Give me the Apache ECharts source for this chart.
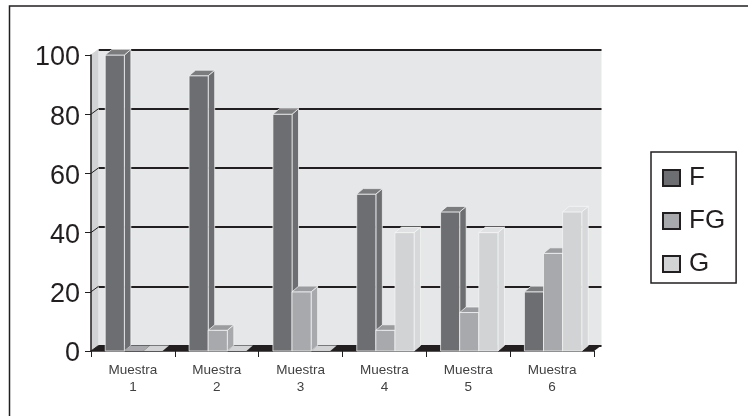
<!DOCTYPE html>
<html>
<head>
<meta charset="utf-8">
<style>html,body{margin:0;padding:0;background:#fff}#chart{width:748px;height:416px}</style>
<script src="https://cdn.jsdelivr.net/npm/echarts@6/dist/echarts.min.js"></script>
</head>
<body>
<div id="chart"></div>
<script>
// Composition of six samples, drawn as pseudo-3D clustered columns
const categories = ['Muestra\n1', 'Muestra\n2', 'Muestra\n3', 'Muestra\n4', 'Muestra\n5', 'Muestra\n6'];
const valuesF = [100, 93, 80, 53, 47, 20];
const valuesFG = [0, 7, 20, 7, 13, 33];
const valuesG = [0, 0, 0, 40, 40, 47];
const yTicks = [0, 20, 40, 60, 80, 100];

const INK = '#231f20';
const FONT = '"Liberation Sans", Arial, sans-serif';
const PLOT = { left: 91, top: 55, width: 503, height: 296 };
const WALL_DX = 7.5, WALL_DY = -5.5;   // offset of the back wall from the front plane
const BAR_DX = 6.5, BAR_DY = -5.5;     // depth of each column
const BAR_RATIO = 0.228;               // column width as a share of the category band

const palette = {
  F:  { front: '#6d6e71', side: '#6d6e71', top: '#7b7c7e' },
  FG: { front: '#a7a9ac', side: '#a7a9ac', top: '#9a9c9f' },
  G:  { front: '#d1d3d4', side: '#d6d8d9', top: '#e0e1e2' }
};

function poly(points, fill, stroke) {
  return {
    type: 'polygon',
    shape: { points },
    style: { fill, stroke: stroke || fill, lineWidth: stroke ? 0.8 : 0 }
  };
}

// One clustered column: front, side and top faces placed from the axis scales
function columnRenderer(seriesIndex, colors) {
  return function (params, api) {
    const cat = api.value(0);
    const val = api.value(1);
    const band = api.size([1, 0])[0];
    const w = band * BAR_RATIO;
    const center = api.coord([cat, 0])[0];
    const x0 = center - w * 1.5 + seriesIndex * w + 1;
    const x1 = x0 + w;
    const yBase = api.coord([cat, 0])[1];
    const yTop = api.coord([cat, val])[1];
    const edge = 'rgba(245,246,246,0.9)';
    const faces = [];
    if (val > 0) {
      faces.push(poly([[x1, yTop], [x1 + BAR_DX, yTop + BAR_DY], [x1 + BAR_DX, yBase + BAR_DY], [x1, yBase]], colors.side, edge));
      faces.push(poly([[x0, yTop], [x1, yTop], [x1, yBase], [x0, yBase]], colors.front, edge));
      faces.push(poly([[x0, yTop], [x1, yTop], [x1 + BAR_DX, yTop + BAR_DY], [x0 + BAR_DX, yTop + BAR_DY]], colors.top, edge));
    } else {
      // An empty sample leaves only a flat footprint on the floor
      faces.push(poly([[x0, yTop], [x1, yTop], [x1 + BAR_DX, yTop + BAR_DY], [x0 + BAR_DX, yTop + BAR_DY]], colors.front));
    }
    return { type: 'group', children: faces };
  };
}

// Left wall, floor and the short connectors between the axis ticks and the back wall
function shellRenderer(params, api) {
  const base = api.coord([0, 0]);
  const xLeft = PLOT.left;
  const xRight = PLOT.left + PLOT.width;
  const yBase = base[1];
  const yMax = api.coord([0, 100])[1];
  const children = [
    poly([[xLeft, yBase], [xLeft + WALL_DX, yBase + WALL_DY], [xLeft + WALL_DX, yMax + WALL_DY], [xLeft, yMax]], '#d1d3d4'),
    poly([[xLeft, yBase], [xRight, yBase], [xRight + WALL_DX, yBase + WALL_DY], [xLeft + WALL_DX, yBase + WALL_DY]], INK)
  ];
  yTicks.forEach(function (t) {
    const y = api.coord([0, t])[1];
    children.push({
      type: 'line',
      shape: { x1: xLeft, y1: y, x2: xLeft + WALL_DX, y2: y + WALL_DY },
      style: { stroke: t === 100 ? '#d1d3d4' : INK, lineWidth: 1 }
    });
  });
  return { type: 'group', children };
}

function columnSeries(name, values, index) {
  return {
    name,
    type: 'custom',
    xAxisIndex: 0,
    yAxisIndex: 0,
    z: 5 + index,
    renderItem: columnRenderer(index, palette[name]),
    itemStyle: { color: palette[name].front, borderColor: INK, borderWidth: 1.5 },
    encode: { x: 0, y: 1 },
    data: values.map(function (v, i) { return [i, v]; }),
    silent: true
  };
}

const chart = echarts.init(document.getElementById('chart'), null, { renderer: 'canvas' });
chart.setOption({
  animation: false,
  backgroundColor: '#ffffff',
  textStyle: { fontFamily: FONT },
  grid: [
    { left: PLOT.left, top: PLOT.top, width: PLOT.width, height: PLOT.height, containLabel: false },
    {
      left: PLOT.left + WALL_DX, top: PLOT.top + WALL_DY, width: PLOT.width, height: PLOT.height,
      show: true, backgroundColor: '#e6e7e8', borderWidth: 0
    }
  ],
  xAxis: [
    {
      gridIndex: 0, type: 'category', data: categories, boundaryGap: true,
      axisLine: { show: true, onZero: false, lineStyle: { color: INK, width: 1.5 } },
      axisTick: { show: true, length: 6, inside: false, lineStyle: { color: INK, width: 1 } },
      axisLabel: { color: '#414042', fontSize: 13.5, lineHeight: 17, margin: 11, interval: 0, fontFamily: FONT },
      splitLine: { show: false }
    },
    { gridIndex: 1, type: 'category', data: categories, show: false }
  ],
  yAxis: [
    {
      gridIndex: 0, type: 'value', min: 0, max: 100, interval: 20, z: 10,
      axisLine: { show: true, lineStyle: { color: INK, width: 1.5 } },
      axisTick: { show: true, length: 6, lineStyle: { color: INK, width: 1 } },
      axisLabel: {
        margin: 11,
        formatter: '{n|{value}}',
        verticalAlignMinLabel: 'middle', verticalAlignMaxLabel: 'middle',
        rich: { n: { color: '#231f20', fontSize: 27, padding: [6, 0, 0, 0], fontFamily: FONT } }
      },
      splitLine: { show: false }
    },
    {
      gridIndex: 1, type: 'value', min: 0, max: 100, interval: 20,
      axisLine: { show: false }, axisTick: { show: false }, axisLabel: { show: false },
      splitLine: { show: true, lineStyle: { color: INK, width: 1.8 } }
    }
  ],
  legend: {
    orient: 'vertical',
    left: 651, top: 152,
    data: ['F', 'FG', 'G'],
    icon: 'rect',
    itemWidth: 17, itemHeight: 16,
    itemGap: 17,
    padding: [13, 11, 6, 11],
    borderColor: INK, borderWidth: 1.5,
    backgroundColor: '#ffffff',
    selectedMode: false,
    textStyle: { color: INK, fontSize: 26, padding: [0, 0, 0, 4], fontFamily: FONT }
  },
  series: [
    {
      type: 'custom', xAxisIndex: 0, yAxisIndex: 0, z: 2, silent: true,
      renderItem: shellRenderer,
      data: [[0, 0]]
    },
    columnSeries('F', valuesF, 0),
    columnSeries('FG', valuesFG, 1),
    columnSeries('G', valuesG, 2)
  ],
  graphic: [
    {
      type: 'polyline', silent: true,
      shape: { points: [[9.5, 416], [9.5, 6], [748, 6]] },
      style: { stroke: INK, lineWidth: 1.5, fill: 'none' }
    }
  ]
});
</script>
</body>
</html>
